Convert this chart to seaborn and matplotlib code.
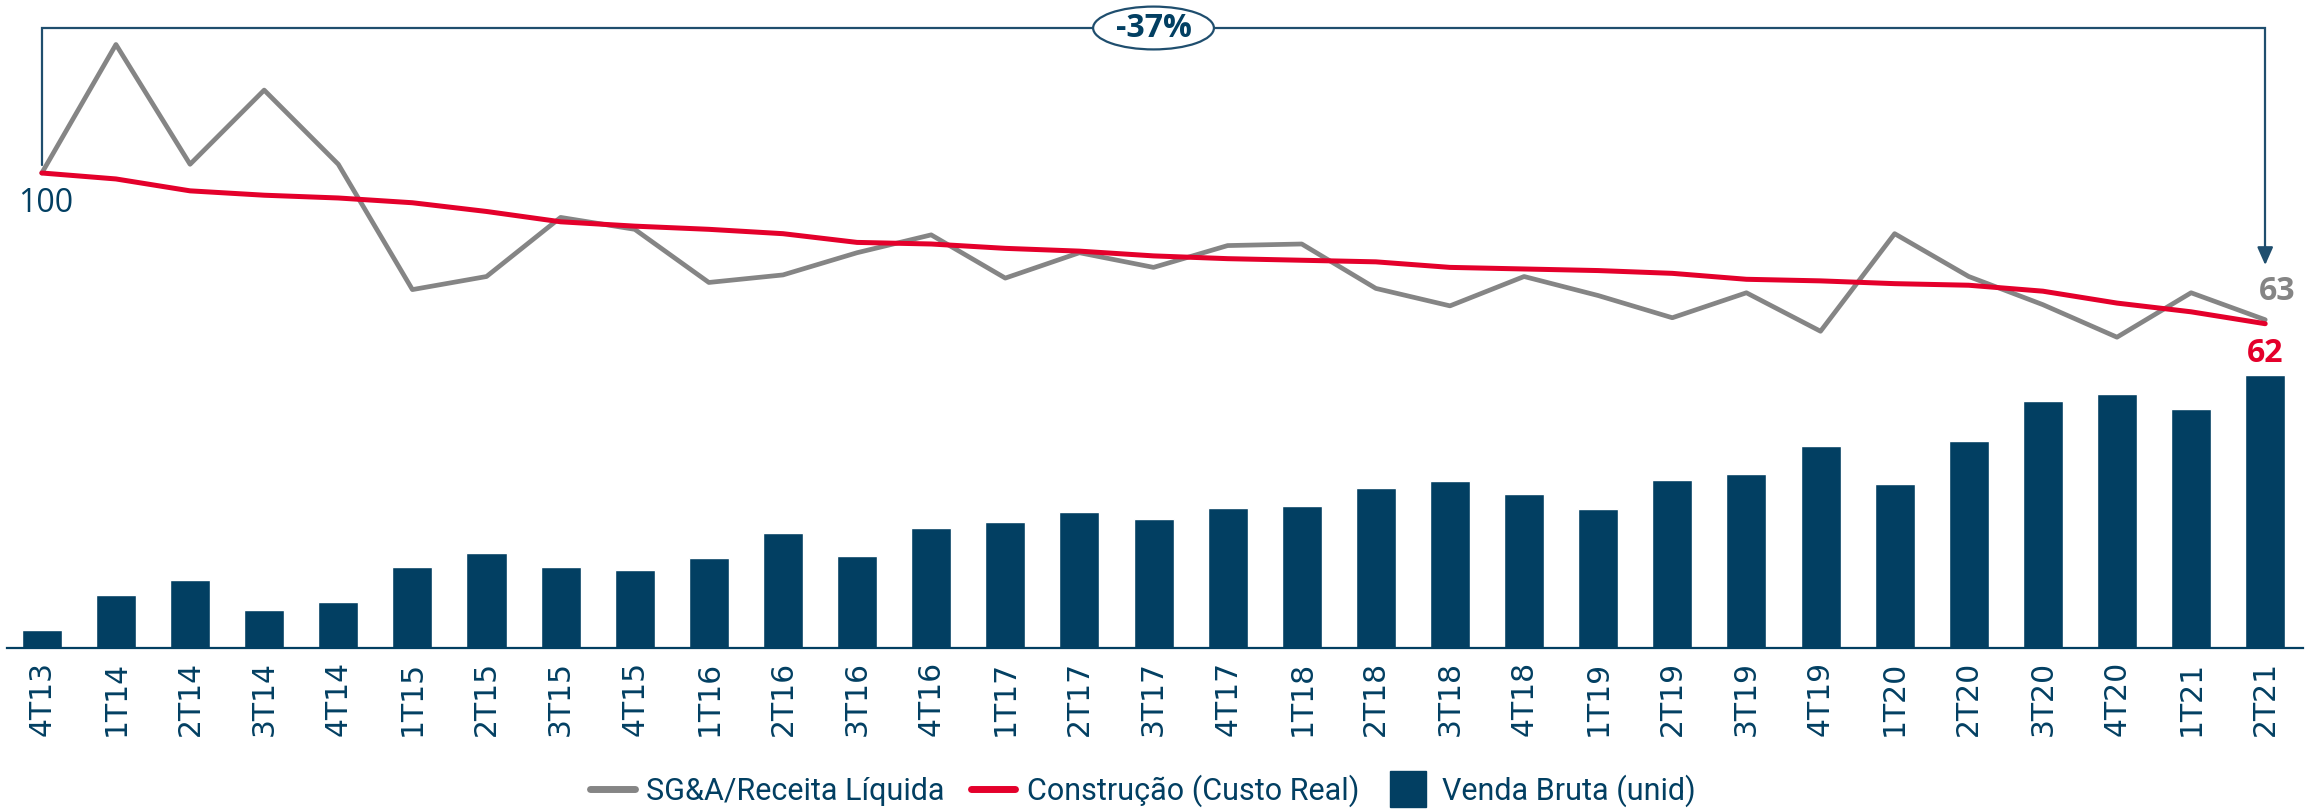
import numpy as np
import pandas as pd
import matplotlib
matplotlib.use("Agg")
import matplotlib.pyplot as plt
import seaborn as sns
from matplotlib.lines import Line2D
from matplotlib.patches import Ellipse

# --- dados ---
trimestres = ["4T13", "1T14", "2T14", "3T14", "4T14", "1T15", "2T15", "3T15", "4T15",
              "1T16", "2T16", "3T16", "4T16", "1T17", "2T17", "3T17", "4T17",
              "1T18", "2T18", "3T18", "4T18", "1T19", "2T19", "3T19", "4T19",
              "1T20", "2T20", "3T20", "4T20", "1T21", "2T21"]
sga_receita = [100, 132.4, 102.2, 120.9, 102.2, 70.6, 73.9, 88.8, 85.8,
               72.4, 74.3, 79.9, 84.4, 73.5, 79.9, 76.2, 81.7,
               82.1, 70.9, 66.5, 73.9, 69.1, 63.5, 69.8, 60.1,
               84.7, 73.9, 66.8, 58.6, 69.8, 63]
construcao = [100, 98.5, 95.5, 94.4, 93.7, 92.5, 90.3, 87.7, 86.6,
              85.8, 84.7, 82.5, 82.1, 81.0, 80.3, 79.1, 78.4,
              78.0, 77.6, 76.2, 75.8, 75.4, 74.7, 73.2, 72.8,
              72.1, 71.7, 70.2, 67.2, 65.0, 62]
venda_bruta = [12, 36, 46, 26, 31, 55, 64, 55, 53,
               61, 78, 62, 81, 85, 92, 87, 95,
               96, 108, 113, 104, 94, 114, 118, 137,
               111, 140, 167, 172, 162, 185]
variacao_txt = "-37%"

NAVY = "#023F62"
RED = "#E4002B"
GRAY = "#858585"
LINE_NAVY = "#1F4E6E"

sns.set_theme(style="white")
plt.rcParams["font.family"] = ["DejaVu Sans"]

df = pd.DataFrame({"tri": trimestres, "pos": np.arange(len(trimestres)),
                   "sga": sga_receita, "cons": construcao, "venda": venda_bruta})

fig = plt.figure(figsize=(23.18, 8.10), dpi=100)
ax = fig.add_axes([7 / 2318, 1 - 648 / 810, 2296 / 2318, 638 / 810])

sns.barplot(data=df, x="tri", y="venda", color=NAVY, width=0.54, saturation=1,
            ax=ax, order=trimestres)
ax.set_ylim(0, 431.7)
ax.set_xlim(-0.47, 30.51)
ax.set_xlabel("")
ax.set_ylabel("")
ax.set_yticks([])
ax.set_xticks(range(len(trimestres)))
ax.set_xticklabels(trimestres, rotation=90, fontsize=21.5, color=NAVY)
ax.tick_params(axis="x", length=0, pad=9)
for s in ["top", "right", "left"]:
    ax.spines[s].set_visible(False)
ax.spines["bottom"].set_color(NAVY)
ax.spines["bottom"].set_linewidth(1.6)

ax2 = ax.twinx()
sns.lineplot(data=df, x="pos", y="sga", color=GRAY, linewidth=3.4, ax=ax2)
sns.lineplot(data=df, x="pos", y="cons", color=RED, linewidth=3.6, ax=ax2)
ax2.set_ylim(-19.77, 141.1)
ax2.set_xlim(-0.47, 30.51)
ax2.set_yticks([])
ax2.set_ylabel("")
ax2.set_xlabel("")
for s in ax2.spines.values():
    s.set_visible(False)

# rotulos
n = len(trimestres) - 1
num_font = ["Open Sans", "DejaVu Sans"]
ax2.text(0.05, 92.4, f"{sga_receita[0]:.0f}", color=NAVY, fontsize=23,
         ha="center", va="center", family=num_font)
ax2.text(n + 0.16, 70.2, f"{sga_receita[-1]:.0f}", color=GRAY, fontsize=23,
         fontweight="bold", ha="center", va="center", family=num_font)
ax2.text(n, 54.6, f"{construcao[-1]:.0f}", color=RED, fontsize=23,
         fontweight="bold", ha="center", va="center", family=num_font)

# colchete com seta
top_y = 136.56
ax2.plot([0, 0, n, n], [102.0, top_y, top_y, 80.5], color=LINE_NAVY,
         linewidth=1.6, solid_joinstyle="miter", clip_on=False)
ax2.annotate("", xy=(n, 76.8), xytext=(n, 81.5),
             arrowprops=dict(arrowstyle="-|>,head_length=0.9,head_width=0.4",
                             color=LINE_NAVY, lw=1.6, shrinkA=0, shrinkB=0))
ell = Ellipse((15.0, top_y), width=1.63, height=10.8, facecolor="white",
              edgecolor=LINE_NAVY, linewidth=1.6, zorder=5, clip_on=False)
ax2.add_patch(ell)
ax2.text(15.0, top_y, variacao_txt, color=NAVY, fontsize=23, fontweight="bold",
         ha="center", va="center", zorder=6, family=num_font)

handles = [Line2D([], [], color=GRAY, linewidth=5),
           Line2D([], [], color=RED, linewidth=5),
           Line2D([], [], color=NAVY, marker="s", markersize=26, linestyle="none")]
labels = ["SG&A/Receita Líquida", "Construção (Custo Real)", "Venda Bruta (unid)"]
leg = fig.legend(handles, labels, loc="center", bbox_to_anchor=(0.493, 0.024),
                 ncol=3, frameon=False, handlelength=1.45,
                 handletextpad=0.38, columnspacing=0.86, labelcolor=NAVY,
                 prop={"family": ["Roboto", "DejaVu Sans"], "size": 22})

fig.savefig("out.png", dpi=100)
